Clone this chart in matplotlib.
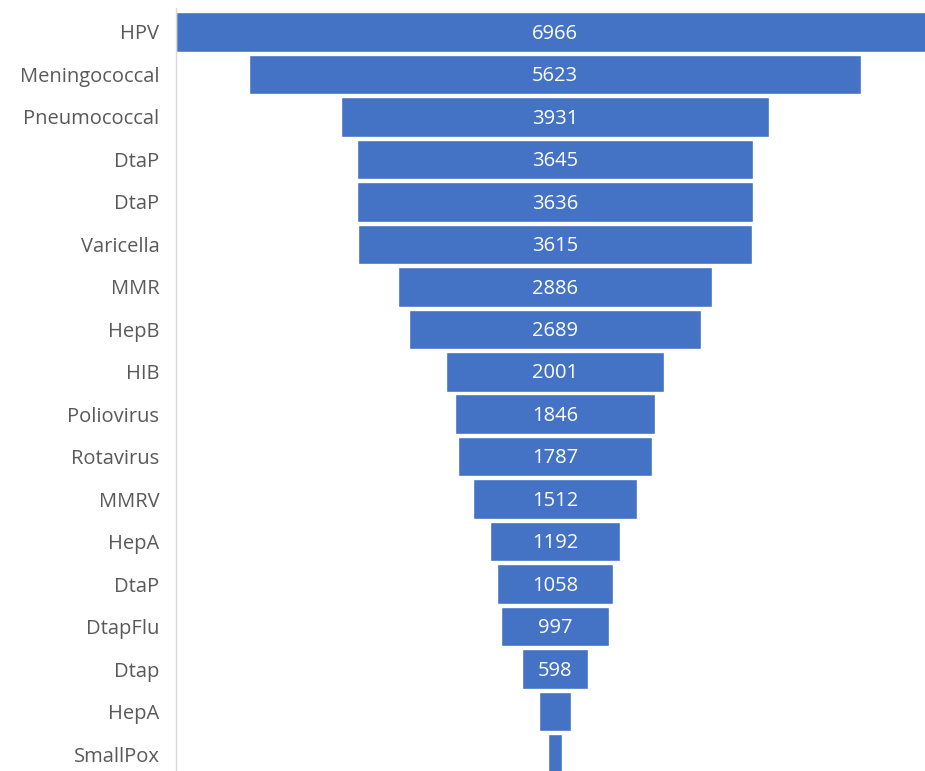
import matplotlib.pyplot as plt

names = ['HPV', 'Meningococcal', 'Pneumococcal', 'DtaP', 'DtaP', 'Varicella',
         'MMR', 'HepB', 'HIB', 'Poliovirus', 'Rotavirus', 'MMRV', 'HepA',
         'DtaP', 'DtapFlu', 'Dtap', 'HepA', 'SmallPox']
counts = [6966, 5623, 3931, 3645, 3636, 3615, 2886, 2689, 2001, 1846,
          1787, 1512, 1192, 1058, 997, 598, 295, 130]

plt.rcParams['font.family'] = ['Open Sans', 'DejaVu Sans']

fig = plt.figure(figsize=(9.25, 7.71), dpi=100)
ax = fig.add_axes([176 / 925, 0, 1 - 176 / 925, 1 - 8 / 771])

ypos = list(range(len(names)))
lefts = [-c / 2 for c in counts]
bars = ax.barh(ypos, counts, left=lefts, height=0.93, color='#4472C4',
               edgecolor='white', linewidth=1)

for y, c in zip(ypos, counts):
    if c > 400:
        ax.text(0, y + 0.04, str(c), ha='center', va='center', color='white', fontsize=14.5)

ax.set_yticks(ypos)
ax.set_yticklabels(names, fontsize=14.5, color='#595959')
ax.tick_params(axis='y', length=0, pad=12)
ax.set_xticks([])
ax.set_xlim(-3483, 3400)
ax.set_ylim(17.4, -0.565)
for s in ['top', 'right', 'bottom']:
    ax.spines[s].set_visible(False)
ax.spines['left'].set_color('#D9D9D9')
ax.spines['left'].set_linewidth(1)

fig.savefig('out.png', dpi=100)
